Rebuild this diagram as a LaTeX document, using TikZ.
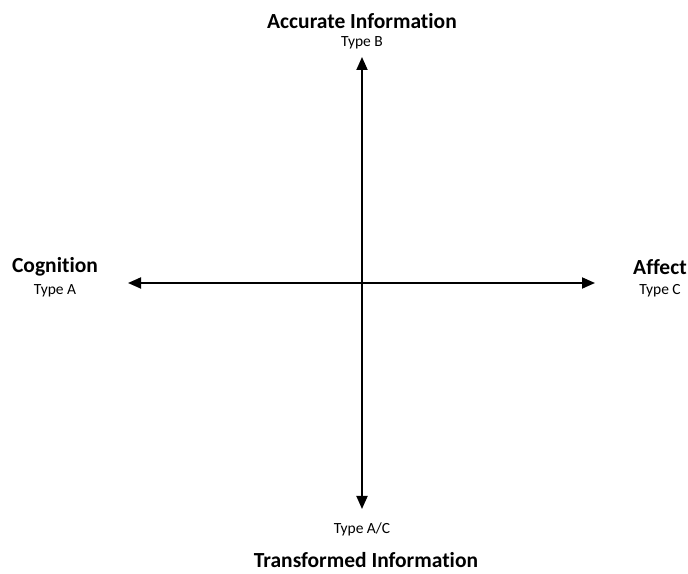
\documentclass[tikz,border=0pt]{standalone}
\usepackage{fontspec}
\setmainfont{Carlito}[Ligatures=NoCommon]
\usetikzlibrary{arrows.meta}

\begin{document}
\begin{tikzpicture}[x=1pt,y=1pt,
  axis/.style={line width=1.8pt,{Triangle[length=13pt,width=11pt]}-{Triangle[length=13pt,width=11pt]}},
  pole/.style={font=\bfseries\fontsize{21.5}{24}\selectfont},
  kind/.style={font=\fontsize{15.5}{18}\selectfont}]
\useasboundingbox (0,0) rectangle (688,573);

%End points of the two axes
\coordinate (O) at (362,290);
\coordinate (T) at (362,516);
\coordinate (B) at (362,64);
\coordinate (L) at (128,290);
\coordinate (R) at (595,290);

%Drawing the axes
\draw[axis] (L)--(R);
\draw[axis] (T)--(B);

%Labels at the ends
\node[pole] (acc) at (362,552) {Accurate Information};
\node[kind] (tb) at (362,530) {Type B};
\node[pole] (cog) at (55,306) {Cognition};
\node[kind] (ta) at (55,282) {Type A};
\node[pole] (aff) at (660,306) {Affect};
\node[kind] (tc) at (660,282) {Type C};
\node[kind] (tac) at (362,44) {Type A/C};
\node[pole] (tra) at (366,13) {Transformed Information};
\end{tikzpicture}
\end{document}
